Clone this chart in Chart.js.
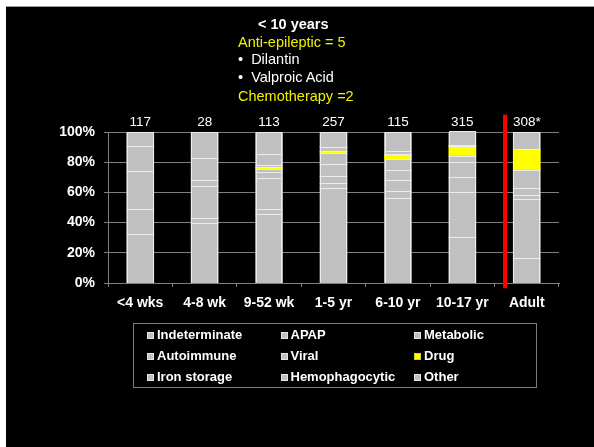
<!DOCTYPE html>
<html>
<head>
<meta charset="utf-8">
<script src="https://cdn.jsdelivr.net/npm/chart.js@4"></script>
<style>
  html, body { margin: 0; padding: 0; background: #fff; }
  body { width: 594px; height: 447px; position: relative; overflow: hidden;
         font-family: "Liberation Sans", Arial, sans-serif; }
  #stage { position: absolute; left: 6px; top: 6px; right: 0; bottom: 0;
           background: #000; border-top: 1px solid #9a9a9a; }
  #chart { position: absolute; left: 0; top: 0; }
  .note { position: absolute; font-size: 14.5px; line-height: 18px; white-space: nowrap; }
  .white { color: #fff; }
  .yellow { color: #f2f200; }
  #legend { position: absolute; left: 133px; top: 323px; width: 402px; height: 63px;
            border: 1px solid #7a7a7a; }
  .item { position: absolute; color: #fff; font-weight: bold; font-size: 13px;
          line-height: 16px; white-space: nowrap; }
  .swatch { position: absolute; left: 0; top: 5px; width: 5px; height: 5px;
            border: 1px solid #e6e6e6; }
  .item span.txt { position: absolute; left: 10px; top: 0; }
</style>
</head>
<body>
<div id="stage"></div>
<canvas id="chart" width="594" height="447"></canvas>

<div class="note white" style="left:258px; top:15px; font-weight:bold;">&lt; 10 years</div>
<div class="note yellow" style="left:238px; top:33px;">Anti-epileptic = 5</div>
<div class="note white" style="left:238px; top:50px;">•&nbsp;&nbsp;Dilantin</div>
<div class="note white" style="left:238px; top:68px;">•&nbsp;&nbsp;Valproic Acid</div>
<div class="note yellow" style="left:238px; top:87px;">Chemotherapy =2</div>

<div id="legend"></div>

<script>
// Age groups along the x axis and the number of cases in each group
const categories = ['<4 wks', '4-8 wk', '9-52 wk', '1-5 yr', '6-10 yr', '10-17 yr', 'Adult'];
const caseCounts = ['117', '28', '113', '257', '115', '315', '308*'];

// Share of cases (%) per aetiology, one value per age group
const indeterminate  = [32.4, 39.3, 45.1, 62.7, 55.8, 30.2, 16.2];
const apap           = [0,    0,    3.6,  3.3,  4.9,  29.8, 39.1];
const metabolic      = [16.2, 3.6,  20.2, 4.7,  7.3,  9.6,  2.7];
const autoimmune     = [0,    0,    4.4,  8.0,  6.7,  10.0, 4.4];
const viral          = [25.4, 21.3, 1.8,  6.8,  7.1,  4.4,  12.3];
const drug           = [0,    0,    1.3,  1.7,  3.0,  6.4,  13.5];
const ironStorage    = [16.4, 3.8,  1.4,  0,    0,    0.7,  0];
const hemophagocytic = [0,    14.2, 7.1,  2.8,  2.5,  0,    0];
const other          = [9.6,  17.8, 15.1, 10.0, 12.7, 8.9,  11.8];

const yTicks = [0, 20, 40, 60, 80, 100];

const GRAY = '#c0c0c0';
const YELLOW = '#ffff00';
const series = [
  { label: 'Indeterminate',  data: indeterminate,  color: GRAY },
  { label: 'APAP',           data: apap,           color: GRAY },
  { label: 'Metabolic',      data: metabolic,      color: GRAY },
  { label: 'Autoimmune',     data: autoimmune,     color: GRAY },
  { label: 'Viral',          data: viral,          color: GRAY },
  { label: 'Drug',           data: drug,           color: YELLOW },
  { label: 'Iron storage',   data: ironStorage,    color: GRAY },
  { label: 'Hemophagocytic', data: hemophagocytic, color: GRAY },
  { label: 'Other',          data: other,          color: GRAY }
];

const FONT = '"Liberation Sans", Arial, sans-serif';
const EDGE = '#ececec';

// White separators on top of every non-empty segment and light edges on each column
const segmentEdges = {
  id: 'segmentEdges',
  afterDatasetsDraw(chart) {
    const { ctx } = chart;
    ctx.save();
    ctx.fillStyle = EDGE;
    chart.data.datasets.forEach((ds, di) => {
      const meta = chart.getDatasetMeta(di);
      meta.data.forEach((el, i) => {
        if (!ds.data[i]) return;
        const left = Math.round(el.x - el.width / 2);
        const right = Math.round(el.x + el.width / 2);
        const top = Math.floor(el.y);
        const base = Math.round(el.base);
        ctx.fillRect(left, top, right - left, 1);
        ctx.fillRect(left, top, 1, base - top);
        ctx.fillRect(right - 1, top, 1, base - top);
      });
    });
    ctx.restore();
  }
};

// Case counts written above each column, plus the red divider before the adult column
const overlay = {
  id: 'overlay',
  afterDatasetsDraw(chart) {
    const { ctx, scales: { x, y }, chartArea } = chart;
    ctx.save();
    ctx.fillStyle = '#fff';
    ctx.font = '13.5px ' + FONT;
    ctx.textAlign = 'center';
    ctx.textBaseline = 'middle';
    caseCounts.forEach((t, i) => {
      ctx.fillText(t, x.getPixelForValue(i), chartArea.top - 10);
    });
    const px = x.getPixelForValue(5.66);
    ctx.fillStyle = '#ff0000';
    const top = y.getPixelForValue(111.5);
    const bottom = y.getPixelForValue(-3.5);
    ctx.fillRect(Math.round(px - 2), top, 4, bottom - top);
    ctx.restore();
  }
};

const chart = new Chart(document.getElementById('chart'), {
  type: 'bar',
  data: {
    labels: categories,
    datasets: series.map(s => ({
      label: s.label,
      data: s.data,
      backgroundColor: s.color,
      borderWidth: 0,
      inflateAmount: c => (c.raw ? 0.5 : 0),
      barPercentage: 0.415,
      categoryPercentage: 1
    }))
  },
  options: {
    responsive: false,
    animation: false,
    events: [],
    layout: { padding: { left: 48, right: 35, top: 132, bottom: 134 } },
    plugins: { legend: { display: false }, tooltip: { enabled: false } },
    scales: {
      x: {
        stacked: true,
        grid: { display: true, drawOnChartArea: false, drawTicks: true, tickLength: 4,
                color: '#7f7f7f', offset: true },
        border: { color: '#7f7f7f', width: 1 },
        ticks: { color: '#fff', font: { family: FONT, size: 14, weight: 'bold' }, padding: 8,
                 maxRotation: 0, autoSkip: false },
        afterFit(scale) { scale.height = 30; }
      },
      y: {
        stacked: true,
        min: 0, max: 100,
        afterBuildTicks(scale) { scale.ticks = yTicks.map(v => ({ value: v })); },
        grid: { color: '#7f7f7f', tickLength: 4 },
        border: { color: '#7f7f7f', width: 1 },
        ticks: { color: '#fff', font: { family: FONT, size: 14, weight: 'bold' }, padding: 9,
                 callback: v => v + '%' },
        afterFit(scale) { scale.width = 60; }
      }
    }
  },
  plugins: [segmentEdges, overlay]
});

// Legend: three columns, filled row by row from the series list
const legend = document.getElementById('legend');
series.forEach((s, i) => {
  const col = i % 3, row = Math.floor(i / 3);
  const item = document.createElement('div');
  item.className = 'item';
  item.style.left = (13 + col * 133.5) + 'px';
  item.style.top = (3 + row * 21.2) + 'px';
  const sw = document.createElement('div');
  sw.className = 'swatch';
  sw.style.background = s.color;
  if (s.color === YELLOW) sw.style.borderColor = '#d8d800';
  const txt = document.createElement('span');
  txt.className = 'txt';
  txt.textContent = s.label;
  item.appendChild(sw);
  item.appendChild(txt);
  legend.appendChild(item);
});
</script>
</body>
</html>
